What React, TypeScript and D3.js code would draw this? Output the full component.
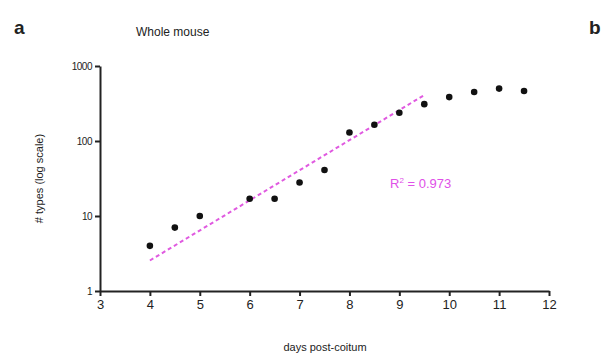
import { useRef, useEffect } from "react";
import * as d3 from "d3";

const days = [4, 4.5, 5, 6, 6.5, 7, 7.5, 8, 8.5, 9, 9.5, 10, 10.5, 11, 11.5];
const types = [4, 7, 10, 17, 17, 28, 41, 130, 165, 238, 310, 385, 450, 500, 465];
const fitDays = [4, 9.5];
const fitTypes = [2.55, 410];
const xTicks = [3, 4, 5, 6, 7, 8, 9, 10, 11, 12];
const yTicks = [1, 10, 100, 1000];

const App = () => {
  const svgRef = useRef<SVGSVGElement>(null);
  const width = 605;
  const height = 353;
  const margin = { left: 100, right: 56, top: 66, bottom: 62 };

  useEffect(() => {
    if (!svgRef.current) return;
    const svg = d3.select(svgRef.current);
    svg.selectAll("*").remove();
    const font = "'Liberation Sans', Arial, sans-serif";

    const xScale = d3
      .scaleLinear()
      .domain([3, 12])
      .range([margin.left, width - margin.right]);
    const yScale = d3
      .scaleLog()
      .domain([1, 1000])
      .range([height - margin.bottom, margin.top]);

    const xAxis = d3.axisBottom(xScale).tickValues(xTicks).tickSize(5).tickPadding(4).tickSizeOuter(0);
    const xg = svg
      .append("g")
      .attr("transform", `translate(0,${height - margin.bottom})`)
      .call(xAxis);
    xg.selectAll("text").style("font-size", "13px").style("font-family", font).attr("fill", "#222");

    const yAxis = d3
      .axisLeft(yScale)
      .tickValues(yTicks)
      .tickFormat(d3.format("d"))
      .tickSize(5)
      .tickPadding(3)
      .tickSizeOuter(0);
    const yg = svg
      .append("g")
      .attr("transform", `translate(${margin.left},0)`)
      .call(yAxis);
    yg.selectAll("text").style("font-size", "10px").style("font-family", font).attr("fill", "#222").style("letter-spacing", "-0.5px");

    svg.selectAll(".domain").attr("stroke", "#222").attr("stroke-width", 2);
    svg.selectAll(".tick line").attr("stroke", "#222").attr("stroke-width", 2);

    // fit line
    const line = d3
      .line<number>()
      .x((d, i) => xScale(fitDays[i]))
      .y((d) => yScale(d));
    svg
      .append("path")
      .attr("d", line(fitTypes))
      .attr("fill", "none")
      .attr("stroke", "#e05ae0")
      .attr("stroke-width", 2)
      .attr("stroke-dasharray", "4,3");

    svg
      .append("g")
      .selectAll("circle")
      .data(days)
      .join("circle")
      .attr("cx", (d) => xScale(d))
      .attr("cy", (d, i) => yScale(types[i]))
      .attr("r", 3.3)
      .attr("fill", "#111");

    const r2 = svg
      .append("text")
      .attr("x", 390)
      .attr("y", 188)
      .style("font-size", "13px")
      .style("font-family", font)
      .attr("fill", "#e050e8");
    r2.append("tspan").text("R");
    r2.append("tspan").attr("dy", -5).style("font-size", "8px").text("2");
    r2.append("tspan").attr("dy", 5).text(" = 0.973");

    svg
      .append("text")
      .attr("x", 136)
      .attr("y", 36)
      .style("font-size", "12px")
      .style("font-family", font)
      .attr("fill", "#222")
      .text("Whole mouse");

    svg
      .append("text")
      .attr("x", 14)
      .attr("y", 34)
      .style("font-size", "19px")
      .style("font-family", font)
      .style("font-weight", "bold")
      .attr("fill", "#222")
      .text("a");

    svg
      .append("text")
      .attr("x", 589)
      .attr("y", 34)
      .style("font-size", "19px")
      .style("font-family", font)
      .style("font-weight", "bold")
      .attr("fill", "#222")
      .text("b");

    svg
      .append("text")
      .attr("transform", `translate(43,${(margin.top + height - margin.bottom) / 2}) rotate(-90)`)
      .attr("text-anchor", "middle")
      .style("font-size", "11px")
      .style("font-family", font)
      .attr("fill", "#222")
      .text("# types (log scale)");

    svg
      .append("text")
      .attr("x", 325)
      .attr("y", 351)
      .attr("text-anchor", "middle")
      .style("font-size", "11px")
      .style("font-family", font)
      .attr("fill", "#222")
      .text("days post-coitum");
  }, []);

  return (
    <div style={{ position: "absolute", left: 0, top: 0, width, height, background: "#fff" }}>
      <svg ref={svgRef} width={width} height={height}></svg>
    </div>
  );
};

export default App;
